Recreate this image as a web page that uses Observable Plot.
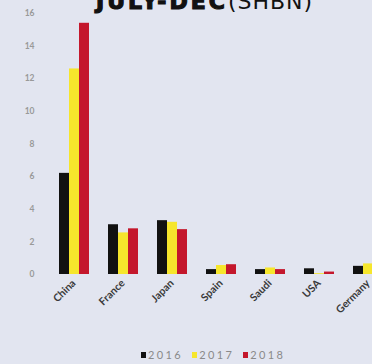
<!DOCTYPE html>
<html>
<head>
<meta charset="utf-8">
<script src="https://cdn.jsdelivr.net/npm/d3@7"></script>
<script src="https://cdn.jsdelivr.net/npm/@observablehq/plot@0.6"></script>
<style>
  html, body { margin: 0; padding: 0; }
  body { background: #e2e5f0; width: 372px; height: 364px; overflow: hidden; position: relative; font-family: Lato, "Open Sans", sans-serif; }
  #title { position: absolute; top: -9px; left: 96px; white-space: nowrap; font-family: "DejaVu Sans", sans-serif; font-size: 22px; line-height: 22px; color: #111; }
  #title b { font-weight: 900; letter-spacing: 3px; -webkit-text-stroke: 1.2px #111; }
  #title span { letter-spacing: 1px; }
  #chart { position: absolute; top: 0; left: 0; }
  #legend { position: absolute; top: 348px; left: 141px; display: flex; gap: 9px; font-size: 11px; color: #8a8a8a; white-space: nowrap; letter-spacing: 2.4px; }
  #legend span.item { display: inline-flex; align-items: center; gap: 2px; }
  #legend span.sw { display: inline-block; width: 5px; height: 6px; }
</style>
</head>
<body>
<div id="chart"></div>
<div id="title"><b>JULY-DEC</b><span>(SHBN)</span></div>
<div id="legend"></div>
<script>
const countries = ["China", "France", "Japan", "Spain", "Saudi", "USA", "Germany"];
const years = ["2016", "2017", "2018"];
const v2016 = [6.2, 3.05, 3.3, 0.3, 0.3, 0.35, 0.5];
const v2017 = [12.6, 2.55, 3.2, 0.55, 0.4, 0.05, 0.65];
const v2018 = [15.4, 2.8, 2.75, 0.6, 0.3, 0.15, 0.7];
const colors = ["#111111", "#f6e62c", "#c4172c"];
const yTicks = [0, 2, 4, 6, 8, 10, 12, 14, 16];

const series = [v2016, v2017, v2018];
const data = countries.flatMap((c, i) => years.map((y, j) => ({country: c, year: y, value: series[j][i]})));

const chart = Plot.plot({
  width: 400,
  height: 340,
  marginLeft: 48,
  marginRight: 7,
  marginTop: 13,
  marginBottom: 66,
  style: {background: "transparent", overflow: "visible", maxWidth: "none", fontFamily: "Lato, 'Open Sans', sans-serif"},
  fx: {domain: countries, paddingInner: 0.367, paddingOuter: 0.2, label: null},
  x: {domain: years, axis: null, paddingInner: 0.05, paddingOuter: 0},
  y: {domain: [0, 16], label: null},
  color: {domain: years, range: colors},
  marks: [
    Plot.axisY({ticks: yTicks, tickSize: 0, tickPadding: 14, dx: -10, color: "#999", fontSize: 8.5, fontWeight: "bold", label: null}),
    Plot.axisFx({anchor: "bottom", tickRotate: -45, tickSize: 0, tickPadding: 7, color: "#3a3a3a", fontSize: 10.5, fontWeight: "bold", label: null}),
    Plot.barY(data, {fx: "country", x: "year", y: "value", fill: "year"})
  ]
});
document.getElementById("chart").appendChild(chart);

const legend = document.getElementById("legend");
years.forEach((y, i) => {
  const item = document.createElement("span");
  item.className = "item";
  const sw = document.createElement("span");
  sw.className = "sw";
  sw.style.background = colors[i];
  item.appendChild(sw);
  item.appendChild(document.createTextNode(y));
  legend.appendChild(item);
});
</script>
</body>
</html>
